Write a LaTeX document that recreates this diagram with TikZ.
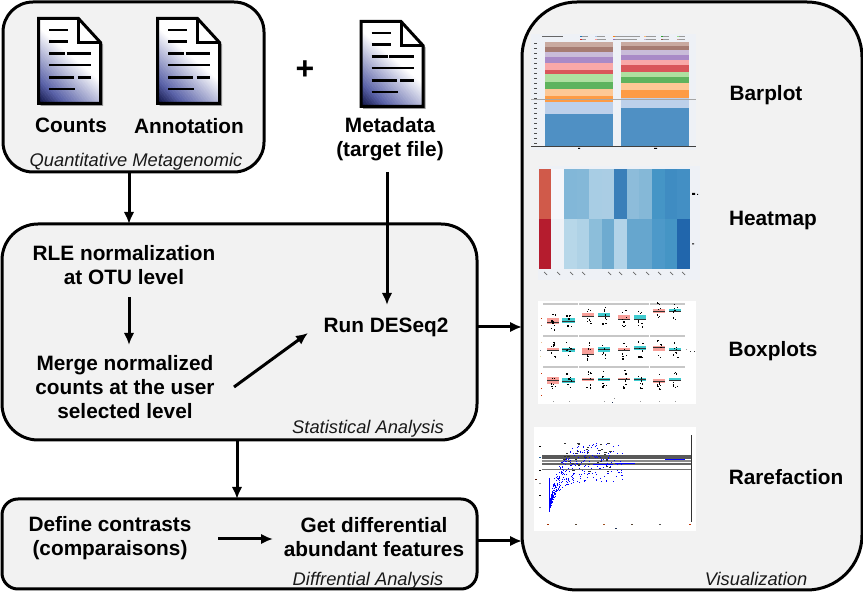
\documentclass[tikz,border=0pt]{standalone}
\usepackage{fontspec}
\setmainfont{Liberation Sans}
\usetikzlibrary{arrows.meta}
\definecolor{boxfill}{HTML}{F2F2F2}
\definecolor{panelbg}{HTML}{EEF1F6}
\definecolor{navy}{HTML}{080C3C}
\definecolor{midblue}{HTML}{5A62A8}
\definecolor{salmonb}{HTML}{F8A09A}
\definecolor{tealb}{HTML}{40CCD0}
\tikzset{
  groupbox/.style={draw=black,fill=boxfill,line width=3pt,outer sep=0pt,inner sep=0pt},
  lbl/.style={font=\fontsize{20.8}{24}\selectfont\bfseries,align=center,inner sep=0pt,text=black},
  captxt/.style={font=\fontsize{18.3}{20}\selectfont\itshape,inner sep=0pt,text=black!90},
  arr/.style={line width=3pt,-{Latex[length=12pt,width=10.5pt]}},
  docline/.style={line width=2.8pt,black}
}
\newcommand{\docicon}[2]{%
  \begin{scope}[shift={(#1,#2)}]
    \fill[black!40] (2,2) -- (42,2) -- (64.5,26) -- (64.5,87.5) -- (2,87.5) -- cycle;
    \begin{scope}
      \clip (0,0) -- (40,0) -- (62,24) -- (62,85) -- (0,85) -- cycle;
      \fill[white] (0,0) rectangle (62,85);
      \foreach \i in {0,...,18}{
        \pgfmathsetmacro{\mixv}{\i/18*100}
        \draw[color=midblue!\mixv!navy,line width=1.4pt]
          ({.653*\i-45},{85-.757*\i-39}) -- ({.653*\i+45},{85-.757*\i+39});}
      \foreach \i in {19,...,58}{
        \pgfmathsetmacro{\mixv}{(\i-18)/40*100}
        \draw[color=white!\mixv!midblue,line width=1.4pt]
          ({.653*\i-45},{85-.757*\i-39}) -- ({.653*\i+45},{85-.757*\i+39});}
    \end{scope}
    \draw[line width=3pt,line join=miter,black] (0,0) -- (40,0) -- (62,24) -- (62,85) -- (0,85) -- cycle;
    \draw[line width=3pt,black] (40,0) -- (40,24) -- (62,24);
    \draw[docline] (10.5,11.5) -- (29.5,11.5) (10.5,23) -- (29.5,23)
      (10.5,35) -- (26.5,35) (28,35) -- (52.5,35) (10.5,46.5) -- (52.5,46.5)
      (10.5,59) -- (35.5,59) (39,59) -- (52.5,59) (10.5,70.5) -- (36.5,70.5);
  \end{scope}}
\begin{document}
\begin{tikzpicture}[x=1pt,y=-1pt]
\useasboundingbox (0,0) rectangle (863,593);
% group boxes
\node[groupbox,rounded corners=30pt,minimum width=261pt,minimum height=170pt] (qbox) at (133.5,87) {};
\node[groupbox,rounded corners=36pt,minimum width=475pt,minimum height=216pt] (sbox) at (239.5,332) {};
\node[groupbox,rounded corners=16pt,minimum width=475pt,minimum height=90pt] (dbox) at (239.5,544) {};
\node[groupbox,rounded corners=55pt,minimum width=340pt,minimum height=588pt] (vbox) at (692,296) {};
% documents
\docicon{38.5}{18.5}
\docicon{157.5}{18.5}
\docicon{361}{21.5}
% labels
\node[lbl] (counts) at (71,125.5) {Counts};
\node[lbl] (annot) at (189,126) {Annotation};
\node[captxt] (qcap) at (136,162) {Quantitative Metagenomic};
\node[lbl,font=\fontsize{32}{32}\selectfont\bfseries] (plus) at (305,70) {+};
\node[lbl] (meta) at (390,139) {Metadata\\(target file)};
\node[lbl] (rle) at (124,265) {RLE normalization\\at OTU level};
\node[lbl] (merge) at (125,387.5) {Merge normalized\\counts at the user\\selected level};
\node[lbl] (run) at (386,327) {Run DESeq2};
\node[captxt] (scap) at (368,429) {Statistical Analysis};
\node[lbl] (define) at (110,538) {Define contrasts\\(comparaisons)};
\node[lbl] (getdiff) at (374,537) {Get differential\\abundant features};
\node[captxt] (dcap) at (368,581) {Diffrential Analysis};
\node[lbl] (bar) at (766,95.5) {Barplot};
\node[lbl] (heat) at (773,220.5) {Heatmap};
\node[lbl] (boxp) at (773,351) {Boxplots};
\node[lbl] (rare) at (786,477) {Rarefaction};
\node[captxt] (vcap) at (756,579) {Visualization};
% free connector ends
\coordinate (a1) at (129,0);
\coordinate (a2) at (387,172);
\coordinate (a3) at (129,297);
\coordinate (a4) at (129,345);
\coordinate (a5) at (234,387);
\coordinate (a6) at (308,333);
\coordinate (a7) at (0,327);
\coordinate (a8) at (237,0);
\coordinate (a9) at (0,541);
\coordinate (a10) at (218,539);
\coordinate (a11) at (273,539);
\coordinate (a12) at (387,305);
% connectors
\draw[arr] (qbox.south -| a1) -- (sbox.north -| a1);
\draw[arr] (a2) -- (a12);
\draw[arr] (a3) -- (a4);
\draw[arr] (a5) -- (a6);
\draw[arr] (sbox.east |- a7) -- (vbox.west |- a7);
\draw[arr] (sbox.south -| a8) -- (dbox.north -| a8);
\draw[arr] (a10) -- (a11);
\draw[arr] (dbox.east |- a9) -- (vbox.west |- a9);
% ---------- barplot thumbnail
\fill[panelbg] (531,34) rectangle (696,150);
\foreach \t/\b/\c in {42/47/C9AAA0,47/52/A67C72,52/57/C9BCD9,57/63/A98AC7,63/70/F9A8A8,70/74/D9565A,74/82/AEE0A0,82/89/5EB35E,89/96/FDC896,96/102/FD9B45,102/114/BDD0EA,114/146/4F90C4}{
  \definecolor{tmpc}{HTML}{\c}\fill[tmpc] (545,\t) rectangle (613,\b);}
\foreach \t/\b/\c in {42/46/C9AAA0,46/50/A67C72,50/55/C9BCD9,55/60/A98AC7,60/65/F9A8A8,65/72/D9565A,72/77/AEE0A0,77/83/5EB35E,83/90/FDC896,90/98/FD9B45,98/108/BDD0EA,108/146/4F90C4}{
  \definecolor{tmpc}{HTML}{\c}\fill[tmpc] (621,\t) rectangle (689,\b);}
\fill[black!35] (531,99) rectangle (696,100);
\fill[black!75] (531,146) rectangle (696,147.2);
\foreach \y in {43,48,53,58,63,68,73,78,83,88,93,98,103,108,113,118,123,128,133,138,143}
  \fill[black!70] (534,\y) rectangle (536.5,\y+.9);
\foreach \x/\c/\w in {580/1F77B4/6,595/AEC7E8/8,613/FF7F0E/25,644/FFBB78/10,661/2CA02C/6,677/98DF8A/6}{
  \definecolor{tmpc}{HTML}{\c}\fill[tmpc] (\x,35.6) rectangle (\x+1.5,37.2);\fill[black!40] (\x+2,36) rectangle (\x+2+\w,36.8);}
\foreach \x/\c/\w in {580/D62728/4,595/FF9896/9,613/9467BD/22,644/C5B0D5/10,661/8C564B/6,677/C49C94/6}{
  \definecolor{tmpc}{HTML}{\c}\fill[tmpc] (\x,38.6) rectangle (\x+1.5,40.2);\fill[black!40] (\x+2,39) rectangle (\x+2+\w,39.8);}
\fill[black!60] (542,35.6) rectangle (563,37);
\fill[black] (578,148) rectangle (580,149) (654,148) rectangle (657,149);
% ---------- heatmap thumbnail
\fill[panelbg] (538,166) rectangle (700,280);
\foreach \xa/\xb/\c in {539/551/D05A4A,551/564/F5F6FA,564/577/82B7D8,577/589/84B8D8,589/602/A8CDE4,602/614/AACDE4,614/627/3A7FB9,627/639/8DBCDA,639/652/85B8D7,652/665/4595C6,665/677/3F8CC2,677/690/438FC4}{
  \definecolor{tmpc}{HTML}{\c}\fill[tmpc] (\xa,169) rectangle (\xb,219);}
\foreach \xa/\xb/\c in {539/551/B51C2E,551/564/EFF2F7,564/577/B7D7E9,577/589/AFD2E6,589/602/8CBEDA,602/614/6EABD0,614/627/B2D3E8,627/639/66A6CE,639/652/66A6CE,652/665/4D99C9,665/677/4595C5,677/690/2166AC}{
  \definecolor{tmpc}{HTML}{\c}\fill[tmpc] (\xa,219) rectangle (\xb,269);}
\foreach \x in {545,558,571,583,609,620,634,647,659,671,683}
  \draw[black!60,line width=.7pt] (\x-1,272) -- (\x+2,275);
\fill[black] (692,193) rectangle (695,195) (692,243.5) rectangle (694,244.5) (697,194) rectangle (698,195);
% ---------- boxplots thumbnail
\fill[white] (538,301) rectangle (696,404);
\foreach \y in {304,336,367}{
  \fill[black!22] (543,\y-1) rectangle (578,\y+1);
  \fill[black!22] (579,\y-1) rectangle (615,\y+1);
  \fill[black!22] (615,\y-1) rectangle (649,\y+1);
  \fill[black!22] (650,\y-1) rectangle (685,\y+1);}
\pgfmathsetseed{7}
\foreach \xa/\xb/\t/\b/\m/\c in {
  547/559/318/324/322/salmonb,562/575/318/323/321/tealb,582/594/313/317/316/salmonb,598/610/313/317/316/tealb,
  618/630/315/320/319/salmonb,634/646/315/320/319/tealb,653/665/309/313/311/salmonb,669/681/309/312/311/tealb,
  547/559/348/351/350/salmonb,562/575/348/352/349/tealb,582/594/348/354/354/salmonb,598/610/347/352/349/tealb,
  618/630/348/351/350/salmonb,634/646/346/350/348/tealb,653/665/346/351/347/salmonb,669/681/348/351/350/tealb,
  547/559/377/384/380/salmonb,562/575/378/383/381/tealb,582/594/378/381/379/salmonb,598/610/378/381/379/tealb,
  618/630/378/380/379/salmonb,634/646/378/381/379/tealb,653/665/379/383/381/salmonb,669/681/378/381/380/tealb}{
  \fill[\c] (\xa,\t) rectangle (\xb,\b);
  \fill[black!80] (\xa,\m) rectangle (\xb,\m+1.2);
  \foreach \k in {1,...,8}{
    \pgfmathsetmacro{\dx}{(\xa+\xb)/2+rnd*5-2.5}
    \pgfmathsetmacro{\dy}{(\t+\b)/2+rnd*18-9}
    \fill[black] (\dx,\dy) rectangle (\dx+1.3,\dy+1.3);}}
\foreach \x/\y/\c in {541/318/C83000,541/325/907050,541/342/E8C090,540/350/708090,540/356/E0D8A0,541/373/C83000,541/388/C83000,541/395/C83000,553/401/999999,569/401/999999,604/401/999999,640/401/999999,659/401/999999,675/401/999999,614/398/888888,612/402/223355,686/349/999999,690/351/333333,694/351/333333}{
  \definecolor{tmpc}{HTML}{\c}\fill[tmpc] (\x,\y) rectangle (\x+1.3,\y+1.3);}
% ---------- rarefaction thumbnail
\fill[white] (534,427) rectangle (696,531);
\fill[black!65] (542,455) rectangle (692,459.5);
\fill[black!45] (542,460.5) rectangle (692,461.7);
\fill[black!60] (542,463) rectangle (692,465.5);
\fill[black!55] (542,469) rectangle (692,470);
\fill[black!80] (691,435) rectangle (692.3,522);
\pgfmathsetseed{11}
\foreach \k in {1,...,480}{
  \pgfmathsetmacro{\rx}{rnd}
  \pgfmathsetmacro{\dx}{549+\rx*\rx*\rx*75}
  \pgfmathsetmacro{\amp}{32+rnd*38}
  \pgfmathsetmacro{\dy}{513-\amp*(1-exp(-(\dx-548)/9))}
  \fill[blue] (\dx,\dy) rectangle (\dx+1,\dy+1);}
\foreach \k in {1,...,40}{
  \pgfmathsetmacro{\dx}{562+rnd*50}
  \pgfmathsetmacro{\dy}{442+rnd*30}
  \fill[black!80] (\dx,\dy) rectangle (\dx+2.4,\dy+1);}
\fill[blue] (548.6,478) rectangle (549.8,512);
\foreach \xa/\xb/\y in {615/635/463,665/685/459,593/612/464}
  \fill[blue] (\xa,\y) rectangle (\xb,\y+1);
\foreach \x/\y/\c in {539/446/000000,539/457/2060A0,539/470/000000,535/479/501000,539/483/888888,539/495/000000,539/507/777777,547/524/A03000,575/524/554433,603/524/A05020,631/524/554433,659/524/555555,689/524/C03000,615/528/223355}{
  \definecolor{tmpc}{HTML}{\c}\fill[tmpc] (\x,\y) rectangle (\x+1.6,\y+1.4);}
\end{tikzpicture}
\end{document}
